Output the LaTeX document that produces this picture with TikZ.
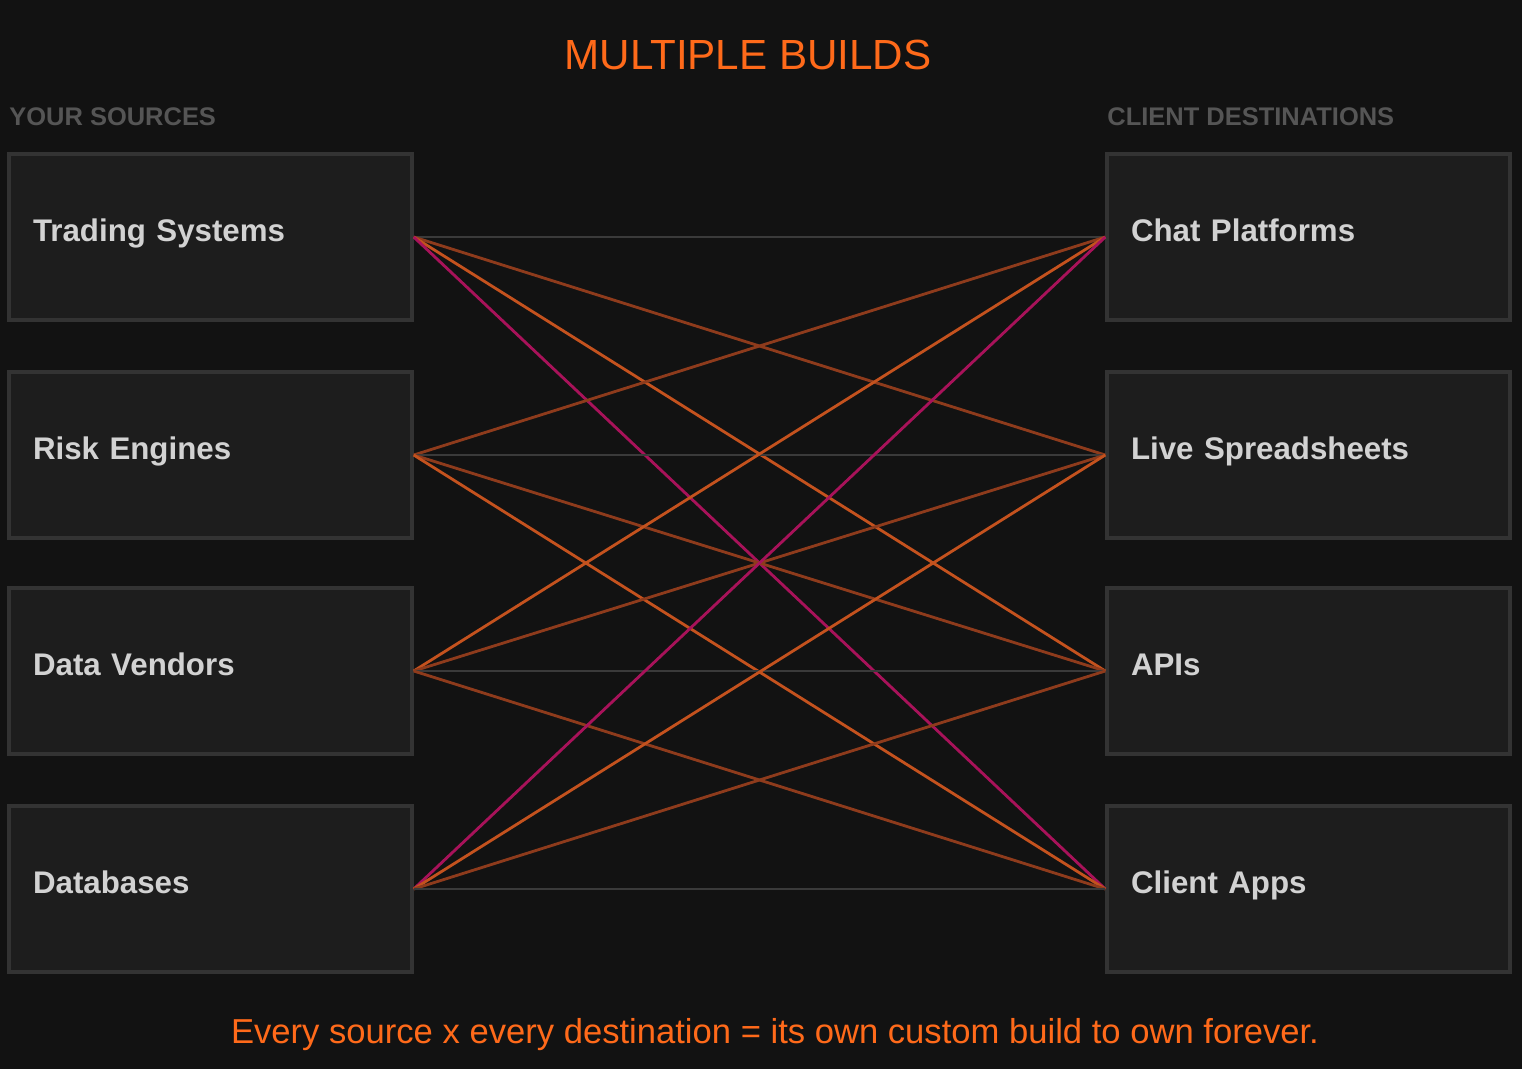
\documentclass[tikz,border=0pt]{standalone}
\usepackage{fontspec}
\setmainfont{Liberation Sans}
\definecolor{bgdark}{HTML}{121212}
\definecolor{boxfill}{HTML}{1D1D1D}
\definecolor{boxline}{HTML}{333333}
\definecolor{labelgray}{HTML}{D2D2D2}
\definecolor{headgray}{HTML}{555555}
\definecolor{accent}{HTML}{FF6A1A}
\definecolor{wireflat}{HTML}{3A3A3A}
\definecolor{wirenear}{HTML}{8E3B1C}
\definecolor{wirefar}{HTML}{C4521E}
\definecolor{wirecross}{HTML}{A8125A}
\tikzset{
  endbox/.style={draw=boxline, line width=2pt, fill=boxfill, minimum width=8.06cm,
    minimum height=3.32cm, inner xsep=0.44cm, text=labelgray,
    font=\fontsize{17.8}{21}\selectfont\bfseries, align=left, text width=7.1cm,
    text height=0.72em, text depth=0.22em},
  header/.style={text=headgray, font=\fontsize{14.5}{17}\selectfont\bfseries, anchor=west, inner sep=0pt},
  wire/.style={line width=1.6pt}
}
\begin{document}
\begin{tikzpicture}[x=0.02cm,y=-0.02cm]
  \fill[bgdark] (0,0) rectangle (1522,1069);
  \useasboundingbox (0,0) rectangle (1522,1069);
  \node (title) at (748,55) [text=accent, font=\fontsize{24}{28}\selectfont] {MULTIPLE BUILDS};
  \node (srchead) at (9,117) [header] {YOUR SOURCES};
  \node (dsthead) at (1107,117) [header] {CLIENT DESTINATIONS};
  % sources
  \node (s1) at (210.5,237) [endbox] {Trading Systems};
  \node (s2) at (210.5,455) [endbox] {Risk Engines};
  \node (s3) at (210.5,671) [endbox] {Data Vendors};
  \node (s4) at (210.5,889) [endbox] {Databases};
  % destinations
  \node (d1) at (1308.5,237) [endbox] {Chat Platforms};
  \node (d2) at (1308.5,455) [endbox] {Live Spreadsheets};
  \node (d3) at (1308.5,671) [endbox] {APIs};
  \node (d4) at (1308.5,889) [endbox] {Client Apps};
  % connectors
  \foreach \i in {1,...,4} {
    \foreach \j in {1,...,4} {
      \pgfmathtruncatemacro{\gap}{abs(\i-\j)}
      \ifcase\gap
        \def\wc{wireflat}\or\def\wc{wirenear}\or\def\wc{wirefar}\or\def\wc{wirecross}\fi
      \draw[wire, \wc] (s\i.east) -- (d\j.west);
    }
  }
  \node (foot) at (775,1035) [text=accent, font=\fontsize{19.7}{23}\selectfont] {Every source x every destination = its own custom build to own forever.};
\end{tikzpicture}
\end{document}
